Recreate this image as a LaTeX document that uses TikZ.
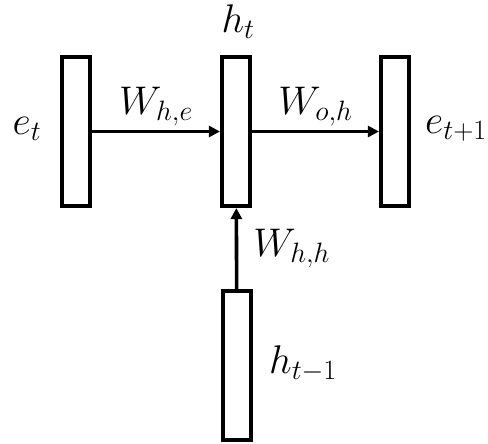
\documentclass[tikz,border=0pt]{standalone}
\usepackage{fix-cm}
\usetikzlibrary{arrows.meta,positioning}

\tikzset{
    layer/.style={draw, line width=3.6pt, minimum width=28.5pt, minimum height=149.5pt, inner sep=0pt},
    conn/.style={line width=3.6pt, -{Triangle[length=11pt,width=11pt]}},
    lbl/.style={font=\fontsize{40}{46}\selectfont, inner sep=1pt}
}

\begin{document}
\begin{tikzpicture}[x=1pt, y=-1pt]

    \useasboundingbox (0,0) rectangle (488,444);

    % Layers
    \node[layer] (input)  at (76,131.5) {};
    \node[layer] (hidden) at (236,131.5) {};
    \node[layer] (output) at (395,131.5) {};
    \node[layer] (prev)   at (237,365.5) {};

    % Layer names
    \node[lbl] (etlbl)   at (27,129)  {$e_t$};
    \node[lbl] (htlbl)   at (238,22)  {$h_t$};
    \node[lbl] (etnlbl)  at (456,129) {$e_{t+1}$};
    \node[lbl] (htmlbl)  at (303,364) {$h_{t-1}$};

    % Weights
    \draw[conn] (input) -- (hidden) node[lbl, midway, above=3pt] (whe) {$W_{h,e}$};
    \draw[conn] (hidden) -- (output) node[lbl, midway, above=3pt] (woh) {$W_{o,h}$};
    \draw[conn] (prev) -- (hidden) node[lbl, midway, right=14pt] (whh) {$W_{h,h}$};

\end{tikzpicture}
\end{document}
